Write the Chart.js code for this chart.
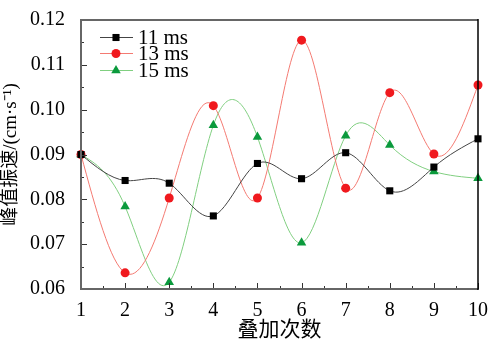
<html>
<head>
<meta charset="utf-8">
<script src="https://cdn.jsdelivr.net/npm/chart.js"></script>
<style>
  body { margin: 0; background: #fff; }
  #wrap { width: 490px; height: 347px; }
</style>
</head>
<body>
<div id="wrap"><canvas id="c" width="490" height="347"></canvas></div>
<script>
    // 叠加次数
    var xValues = [1, 2, 3, 4, 5, 6, 7, 8, 9, 10];
    var yTicks = [0.06, 0.07, 0.08, 0.09, 0.10, 0.11, 0.12];

    var ms11 = [0.0900, 0.0842, 0.0836, 0.0763, 0.0880, 0.0846, 0.0904, 0.0819, 0.0872, 0.0935];
    var ms13 = [0.0900, 0.0636, 0.0803, 0.1009, 0.0803, 0.1155, 0.0825, 0.1038, 0.0901, 0.1055];
    var ms15 = [0.0900, 0.0784, 0.0615, 0.0965, 0.0939, 0.0703, 0.0942, 0.0921, 0.0862, 0.0847];

    var serif = '"Liberation Serif", "Times New Roman", "Noto Sans CJK SC", serif';

    function series(label, values, lineColor, markColor, shape, size) {
        return {
            label: label,
            data: xValues.map(function (x, i) { return { x: x, y: values[i] }; }),
            borderColor: lineColor,
            borderWidth: 1,
            backgroundColor: markColor,
            pointBorderColor: markColor,
            pointBackgroundColor: markColor,
            pointStyle: shape,
            pointRadius: size,
            pointBorderWidth: 0,
            tension: 0.4,
            clip: false
        };
    }

    // natural cubic spline through the points (like Origin's "Spline" connect)
    var spline = {
        id: 'spline',
        beforeDatasetDraw: function (chart, args) {
            var meta = args.meta, pts = meta.data, line = meta.dataset;
            if (!line || pts.length < 3) return;
            line.updateControlPoints(chart.chartArea, 'x');
            var n = pts.length - 1, h = [], M = [], a = [], b = [], c = [], r = [];
            for (var i = 0; i < n; i++) h[i] = pts[i + 1].x - pts[i].x;
            // tridiagonal system for second derivatives, M0 = Mn = 0
            for (i = 1; i < n; i++) {
                a[i] = h[i - 1]; b[i] = 2 * (h[i - 1] + h[i]); c[i] = h[i];
                r[i] = 6 * ((pts[i + 1].y - pts[i].y) / h[i] - (pts[i].y - pts[i - 1].y) / h[i - 1]);
            }
            for (i = 2; i < n; i++) {
                var m = a[i] / b[i - 1];
                b[i] -= m * c[i - 1]; r[i] -= m * r[i - 1];
            }
            M[0] = 0; M[n] = 0;
            for (i = n - 1; i >= 1; i--) M[i] = (r[i] - (i < n - 1 ? c[i] * M[i + 1] : 0)) / b[i];
            for (i = 0; i < n; i++) {
                var s = (pts[i + 1].y - pts[i].y) / h[i];
                var d0 = s - h[i] * (2 * M[i] + M[i + 1]) / 6;
                var d1 = s + h[i] * (M[i] + 2 * M[i + 1]) / 6;
                pts[i].cp2x = pts[i].x + h[i] / 3; pts[i].cp2y = pts[i].y + d0 * h[i] / 3;
                pts[i + 1].cp1x = pts[i + 1].x - h[i] / 3; pts[i + 1].cp1y = pts[i + 1].y - d1 * h[i] / 3;
            }
            line._path = undefined;
        }
    };

    // ticks inside the frame, plus the box and the legend
    var frame = {
        id: 'frame',
        afterDatasetsDraw: function (chart) {
            var ctx = chart.ctx, a = chart.chartArea;
            var xs = chart.scales.x, ys = chart.scales.y;
            ctx.save();
            ctx.strokeStyle = '#333';
            ctx.lineWidth = 1;
            ctx.beginPath();
            for (var v = 1; v <= 10.001; v += 0.5) {
                var px = Math.round(xs.getPixelForValue(v)) + 0.5;
                var len = Math.abs(v - Math.round(v)) < 0.01 ? 6 : 3;
                ctx.moveTo(px, a.bottom); ctx.lineTo(px, a.bottom - len);
            }
            for (var k = 0; k <= 12; k++) {
                var yv = 0.06 + k * 0.005;
                var py = Math.round(ys.getPixelForValue(yv)) + 0.5;
                var l2 = k % 2 === 0 ? 6 : 3;
                ctx.moveTo(a.left, py); ctx.lineTo(a.left + l2, py);
            }
            ctx.stroke();

            ctx.lineWidth = 2;
            ctx.strokeStyle = '#666';
            ctx.beginPath();
            ctx.moveTo(a.right, a.top); ctx.lineTo(a.left, a.top);
            ctx.lineTo(a.left, a.bottom); ctx.lineTo(a.right, a.bottom);
            ctx.stroke();
            ctx.strokeStyle = '#000';
            ctx.lineWidth = 1.5;
            ctx.beginPath();
            ctx.moveTo(a.right, a.top - 1); ctx.lineTo(a.right, a.bottom + 1);
            ctx.stroke();

            // legend
            var lx = a.left + 19, rowY = [a.top + 17, a.top + 33, a.top + 50];
            chart.data.datasets.forEach(function (ds, i) {
                var y = rowY[i];
                ctx.strokeStyle = ds.borderColor;
                ctx.lineWidth = 1;
                ctx.beginPath();
                ctx.moveTo(lx, y + 0.5); ctx.lineTo(lx + 33, y + 0.5);
                ctx.stroke();
                ctx.fillStyle = ds.pointBackgroundColor;
                ctx.strokeStyle = ds.pointBackgroundColor;
                Chart.helpers.drawPoint(ctx, {
                    pointStyle: ds.pointStyle, radius: ds.pointRadius, borderWidth: 0, rotation: 0
                }, lx + 16, y + 0.5);
                ctx.fillStyle = '#000';
                ctx.font = '21px ' + serif;
                ctx.textBaseline = 'middle';
                ctx.fillText(ds.label, lx + 38, y + 1);
            });
            ctx.restore();
        }
    };

    var ctx = document.getElementById('c').getContext('2d');
    var chart = new Chart(ctx, {
        type: 'line',
        data: {
            datasets: [
                series('11 ms', ms11, '#444', '#000', 'rect', 5),
                series('13 ms', ms13, '#f47a72', '#f0191e', 'circle', 4.5),
                series('15 ms', ms15, '#80cf80', '#0a9a3c', 'triangle', 5.5)
            ]
        },
        plugins: [spline, frame],
        options: {
            responsive: false,
            animation: false,
            layout: { padding: { top: 14, right: 11, left: 0, bottom: 0 } },
            plugins: { legend: { display: false }, tooltip: { enabled: false } },
            scales: {
                x: {
                    type: 'linear', min: 1, max: 10,
                    grid: { display: false }, border: { display: false },
                    afterBuildTicks: function (s) { s.ticks = xValues.map(function (v) { return { value: v }; }); },
                    ticks: { color: '#000', font: { family: serif, size: 20 }, padding: 2, maxRotation: 0 },
                    title: { display: true, text: '叠加次数', color: '#000', font: { family: serif, size: 21 }, padding: { top: 5 } },
                    afterFit: function (s) { s.height = 58; }
                },
                y: {
                    min: 0.06, max: 0.12,
                    grid: { display: false }, border: { display: false },
                    afterBuildTicks: function (s) { s.ticks = yTicks.map(function (v) { return { value: v }; }); },
                    ticks: { color: '#000', font: { family: serif, size: 20 }, padding: 8,
                        callback: function (v) { return v.toFixed(2); } },
                    title: { display: true, text: '峰值振速/(cm·s⁻¹)', color: '#000', font: { family: serif, size: 19 }, padding: 0 },
                    afterFit: function (s) { s.width = 81; }
                }
            }
        }
    });
</script>
</body>
</html>
